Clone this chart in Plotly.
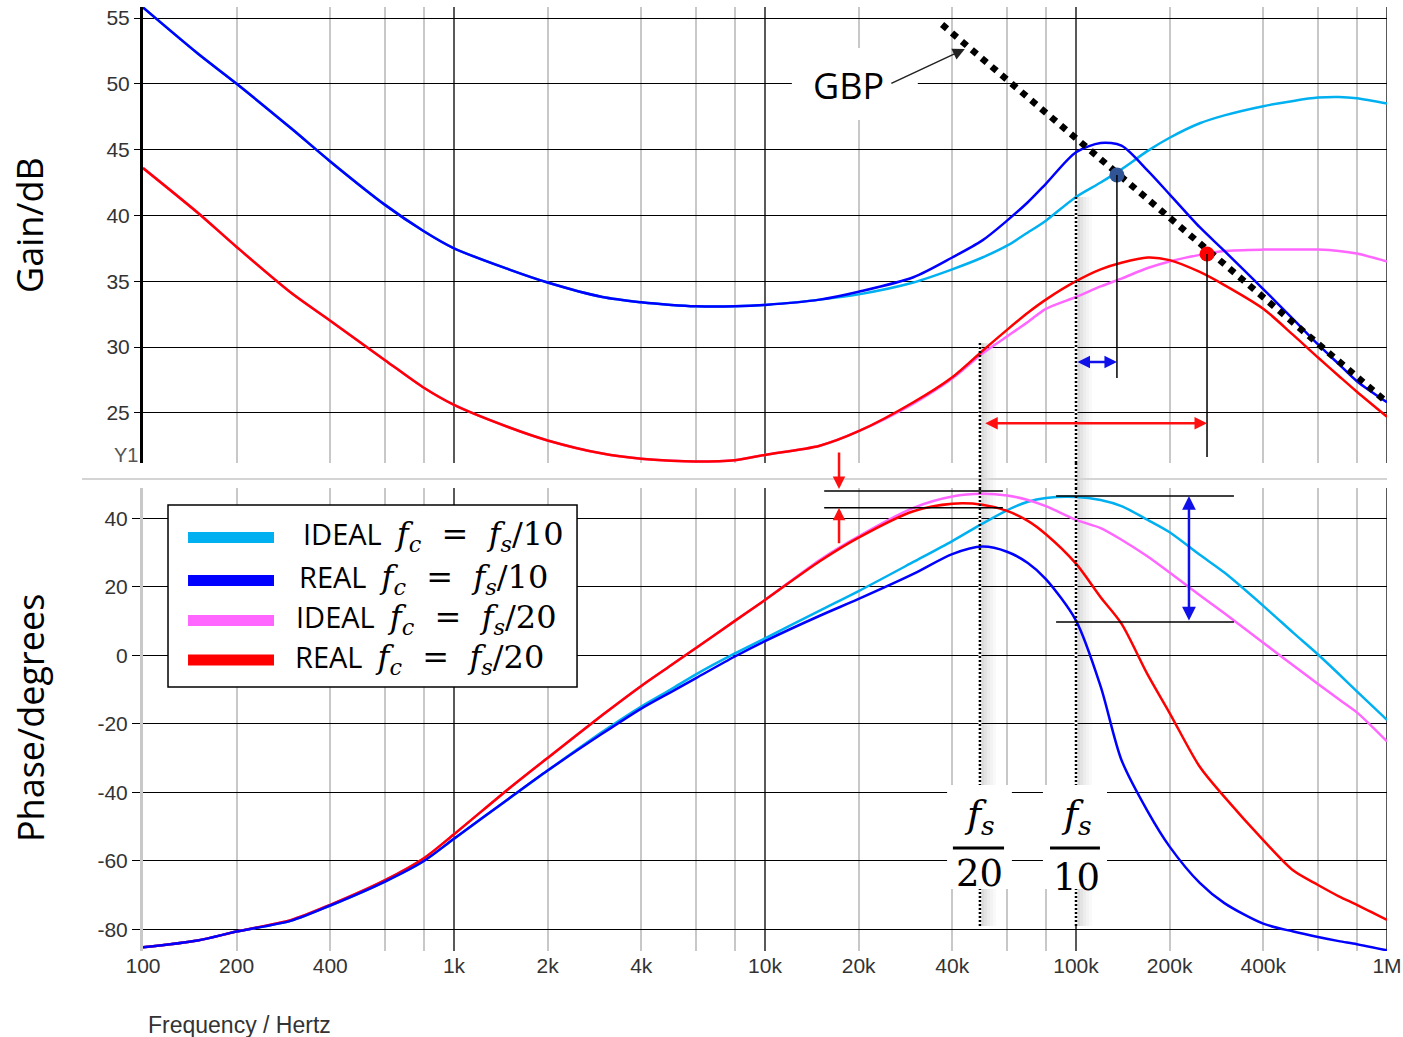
import math
import plotly.graph_objects as go

# ---------------- data ----------------
freq_hz = [100, 150, 200, 300, 400, 600, 800, 1e3, 1.5e3, 2e3, 3e3, 4e3, 5e3, 6e3, 8e3,
           1e4, 1.5e4, 2e4, 3e4, 4e4, 5e4, 6e4, 7e4, 8e4, 1e5, 1.2e5, 1.4e5, 1.7e5, 2e5,
           2.5e5, 3e5, 4e5, 5e5, 6e5, 7e5, 8e5, 1e6]

gain_ideal_10 = [55.8, 52.3, 50.0, 46.6, 44.1, 40.8, 38.8, 37.5, 35.9, 34.9, 33.8, 33.4, 33.2, 33.1, 33.1,
                 33.2, 33.6, 34.0, 34.9, 35.9, 36.8, 37.7, 38.7, 39.6, 41.4, 42.5, 43.5, 44.9, 45.9,
                 47.0, 47.6, 48.3, 48.7, 48.95, 49.0, 48.9, 48.5]
gain_real_10 = [55.8, 52.3, 50.0, 46.6, 44.1, 40.8, 38.8, 37.5, 35.9, 34.9, 33.8, 33.4, 33.2, 33.1, 33.1,
                33.2, 33.6, 34.2, 35.3, 36.8, 38.1, 39.6, 41.0, 42.4, 44.8, 45.5, 45.3, 43.4, 41.6,
                39.1, 37.3, 34.4, 32.1, 30.2, 28.7, 27.4, 25.8]
gain_ideal_20 = [43.6, 40.2, 37.6, 34.1, 32.0, 29.0, 26.9, 25.6, 23.9, 22.9, 21.9, 21.5, 21.35, 21.3, 21.4,
                 21.8, 22.5, 23.6, 25.7, 27.6, 29.5, 30.8, 31.9, 32.9, 33.8, 34.6, 35.2, 36.0, 36.5,
                 37.0, 37.3, 37.4, 37.4, 37.4, 37.3, 37.1, 36.5]
gain_real_20 = [43.6, 40.2, 37.6, 34.1, 32.0, 29.0, 26.9, 25.6, 23.9, 22.9, 21.9, 21.5, 21.35, 21.3, 21.4,
                21.8, 22.5, 23.6, 25.8, 27.7, 29.7, 31.3, 32.6, 33.6, 35.0, 35.9, 36.4, 36.8, 36.6,
                35.7, 34.7, 32.9, 30.9, 29.2, 27.8, 26.6, 24.7]

phase_ideal_10 = [-85.2, -83.2, -80.6, -77.4, -73.0, -66.0, -60.0, -53.5, -41.8, -33.6, -22.3, -14.9, -9.8, -5.5, 0.6,
                  5.0, 13.1, 18.8, 27.3, 33.4, 38.5, 42.4, 44.9, 46.0, 46.3, 45.4, 43.6, 39.6, 36.0,
                  29.4, 24.2, 14.5, 6.6, 0.3, -5.4, -10.5, -18.8]
phase_real_10 = [-85.2, -83.2, -80.6, -77.4, -73.0, -66.0, -60.0, -53.5, -41.8, -33.6, -22.8, -15.5, -10.6, -6.6, -0.3,
                 4.2, 11.6, 16.5, 23.8, 29.6, 31.8, 30.3, 27.0, 22.3, 10.2, -9.0, -30.5, -45.5, -55.8,
                 -66.4, -72.3, -78.3, -80.6, -82.2, -83.4, -84.3, -86.1]
phase_ideal_20 = [-85.2, -83.2, -80.6, -77.2, -72.8, -65.6, -59.2, -52.2, -38.9, -29.9, -17.4, -8.9, -2.8, 2.2, 10.1,
                  16.2, 27.9, 34.8, 43.1, 46.4, 47.2, 46.7, 45.4, 43.6, 39.6, 37.2, 33.8, 28.9, 24.2,
                  17.6, 12.3, 3.7, -2.9, -8.3, -12.8, -16.6, -25.1]
phase_real_20 = [-85.2, -83.2, -80.6, -77.2, -72.8, -65.6, -59.2, -52.2, -38.9, -29.9, -17.4, -8.9, -2.8, 2.2, 10.1,
                 16.2, 27.5, 34.4, 42.1, 44.3, 44.0, 42.2, 39.3, 35.4, 26.8, 17.0, 9.3, -5.6, -16.8,
                 -32.5, -41.3, -53.9, -62.8, -67.0, -70.3, -72.8, -77.2]

series_kind = ["IDEAL", "REAL", "IDEAL", "REAL"]
series_div = [10, 10, 20, 20]
series_color = ["#00B0F0", "#0000FF", "#FF66FF", "#FF0000"]
series_gain = [gain_ideal_10, gain_real_10, gain_ideal_20, gain_real_20]
series_phase = [phase_ideal_10, phase_real_10, phase_ideal_20, phase_real_20]

# gain-bandwidth product asymptote and where the ideal curves meet it
gbp_freq = [37.1e3, 1e6]
gbp_gain = [54.5, 25.8]
cross_freq = [135.4e3, 263.8e3]
cross_gain = [43.07, 37.07]
cross_color = ["#2F5597", "#FF0000"]

# sampling-frequency fractions
fs20_freq = 49.1e3
fs10_freq = 100e3
fs20_gain_top = 30.3
fs10_gain_top = 41.4
fs_phase_bottom = -79.0

x_tick_vals = [100, 200, 400, 1e3, 2e3, 4e3, 1e4, 2e4, 4e4, 1e5, 2e5, 4e5, 1e6]
x_tick_text = ["100", "200", "400", "1k", "2k", "4k", "10k", "20k", "40k", "100k", "200k", "400k", "1M"]
gain_ticks = [25, 30, 35, 40, 45, 50, 55]
phase_ticks = [-80, -60, -40, -20, 0, 20, 40]
phase_tick_text = ["-80", "-60", "-40", "-20", "0", "20", "40"]

# ---------------- layout constants ----------------
W, H = 1403, 1037
GAIN_RANGE = [21.185, 55.836]
PHASE_RANGE = [-86.28, 48.9]
TOP_DOM = [0.51695, 1.0]
BOT_DOM = [0.0, 0.49047]
TICK_FONT = dict(family="Liberation Sans, Arial", size=21, color="#333333")
SANS = "Open Sans"
MATH = "DejaVu Serif"
PXF = 10 ** (1 / 311)  # frequency ratio of one screen pixel on the x axis

lg = math.log10
decades = [1e3, 1e4, 1e5, 1e6]
minor_grid = [m * 10 ** k for k in range(2, 6) for m in (2, 4, 6, 8)]
LINE = dict(width=2.5, shape="spline", smoothing=0.8)

fig = go.Figure()

# curves: ideal underneath, real on top
for idx in (0, 2, 3, 1):
    fig.add_trace(go.Scatter(x=freq_hz, y=series_gain[idx], mode="lines", xaxis="x", yaxis="y",
                             line=dict(color=series_color[idx], **LINE),
                             showlegend=False, hoverinfo="skip"))
    fig.add_trace(go.Scatter(x=freq_hz, y=series_phase[idx], mode="lines", xaxis="x2", yaxis="y2",
                             line=dict(color=series_color[idx], **LINE),
                             showlegend=False, hoverinfo="skip"))

fig.add_trace(go.Scatter(x=gbp_freq, y=gbp_gain, mode="lines", xaxis="x", yaxis="y",
                         line=dict(color="black", width=6.5, dash="dot"),
                         showlegend=False, hoverinfo="skip"))
fig.add_trace(go.Scatter(x=cross_freq, y=cross_gain, mode="markers", xaxis="x", yaxis="y",
                         marker=dict(color=cross_color, size=15, line=dict(width=0)),
                         showlegend=False, hoverinfo="skip"))

shapes = []
# decade grid lines in black
for d in decades:
    shapes.append(dict(type="line", xref="x", yref="y domain", x0=d, x1=d, y0=0, y1=1,
                       line=dict(color="black", width=1.3), layer="below"))
    shapes.append(dict(type="line", xref="x2", yref="y2 domain", x0=d, x1=d, y0=0, y1=1,
                       line=dict(color="black", width=1.3), layer="below"))

# separator between the two panels
shapes.append(dict(type="line", xref="paper", yref="paper", x0=-0.049, x1=1, y0=0.5, y1=0.5,
                   line=dict(color="#d4d4d4", width=2)))

shadow_cols = ["#d9d9d9", "#e3e3e3", "#ececec", "#f3f3f3", "#f9f9f9"]


def fs_marker(f, g_top):
    out = []
    # soft shadow on the right of the marker line
    for k, col in enumerate(shadow_cols):
        a, b = f * PXF ** (1 + 3 * k), f * PXF ** (4 + 3 * k)
        out.append(dict(type="rect", xref="x", yref="y", x0=a, x1=b, y0=g_top, y1=GAIN_RANGE[0],
                        fillcolor=col, line=dict(width=0), layer="below"))
        out.append(dict(type="rect", xref="x", yref="paper", x0=a, x1=b, y0=TOP_DOM[0], y1=BOT_DOM[1],
                        fillcolor=col, line=dict(width=0), layer="below"))
        out.append(dict(type="rect", xref="x2", yref="y2", x0=a, x1=b, y0=PHASE_RANGE[1], y1=fs_phase_bottom,
                        fillcolor=col, line=dict(width=0), layer="below"))
    # white backing so the dots read as dots over the grid
    out.append(dict(type="line", xref="x", yref="y", x0=f, x1=f, y0=g_top, y1=GAIN_RANGE[0],
                    line=dict(color="white", width=3), layer="between"))
    out.append(dict(type="line", xref="x2", yref="y2", x0=f, x1=f, y0=PHASE_RANGE[1], y1=fs_phase_bottom,
                    line=dict(color="white", width=3), layer="between"))
    dot = dict(color="black", width=2.5, dash="2px,2px")
    out.append(dict(type="line", xref="x", yref="y", x0=f, x1=f, y0=g_top, y1=GAIN_RANGE[0],
                    line=dot, layer="above"))
    out.append(dict(type="line", xref="x", yref="paper", x0=f, x1=f, y0=TOP_DOM[0], y1=BOT_DOM[1],
                    line=dot, layer="above"))
    out.append(dict(type="line", xref="x2", yref="y2", x0=f, x1=f, y0=PHASE_RANGE[1], y1=fs_phase_bottom,
                    line=dot, layer="above"))
    return out


shapes += fs_marker(fs20_freq, fs20_gain_top)
shapes += fs_marker(fs10_freq, fs10_gain_top)

# drop lines from the crossing points
for f, g, g_end in zip(cross_freq, cross_gain, [27.64, 21.64]):
    shapes.append(dict(type="line", xref="x", yref="y", x0=f, x1=f, y0=g, y1=g_end,
                       line=dict(color="black", width=1.5)))

# phase reference levels
for f0, f1, p in [(15.5e3, 58.2e3, 48.0), (15.5e3, 58.2e3, 43.1), (86.3e3, 322e3, 46.6), (86.3e3, 322e3, 9.8)]:
    shapes.append(dict(type="line", xref="x2", yref="y2", x0=f0, x1=f1, y0=p, y1=p,
                       line=dict(color="black", width=1.5)))

# white label backgrounds
shapes.append(dict(type="rect", xref="x", yref="y", x0=12.2e3, x1=31.0e3, y0=47.25, y1=52.72,
                   fillcolor="white", line=dict(width=0), layer="above"))
for f0, f1 in [(38.5e3, 62.2e3), (78.3e3, 125.8e3)]:
    shapes.append(dict(type="rect", xref="x2", yref="y2", x0=f0, x1=f1, y0=-37.8, y1=-68.2,
                       fillcolor="white", line=dict(width=0), layer="above"))
# fraction bars
for f0, f1 in [(40.2e3, 58.7e3), (82.5e3, 119.4e3)]:
    shapes.append(dict(type="line", xref="x2", yref="y2", x0=f0, x1=f1, y0=-56.2, y1=-56.2,
                       line=dict(color="black", width=3)))

# legend box
shapes.append(dict(type="rect", xref="paper", yref="paper", x0=0.0201, x1=0.3489, y0=0.2797, y1=0.4725,
                   fillcolor="white", line=dict(color="black", width=1.5), layer="above"))
legend_y = [0.4380, 0.3925, 0.3501, 0.3083]
legend_text_x = [0.1270, 0.1238, 0.1214, 0.1206]
for i in range(4):
    shapes.append(dict(type="line", xref="paper", yref="paper", x0=0.0362, x1=0.1053,
                       y0=legend_y[i], y1=legend_y[i], line=dict(color=series_color[i], width=11)))

ann = []
ann.append(dict(text="Gain/dB", xref="paper", yref="paper", x=-0.0908, y=0.7691, textangle=-90,
                xanchor="center", yanchor="middle",
                showarrow=False, font=dict(family=SANS, size=36, color="black")))
ann.append(dict(text="Phase/degrees", xref="paper", yref="paper", x=-0.0908, y=0.2468, textangle=-90,
                xanchor="center", yanchor="middle",
                showarrow=False, font=dict(family=SANS, size=36, color="black")))
ann.append(dict(text="Frequency / Hertz", xref="paper", yref="paper", x=0.0024, y=-0.0784,
                xanchor="left", yanchor="middle", showarrow=False,
                font=dict(family="Liberation Sans, Arial", size=23, color="#333333")))
ann.append(dict(text="Y1", xref="paper", yref="y", x=-0.0024, y=21.81, xanchor="right", yanchor="middle",
                showarrow=False, font=dict(family="Liberation Sans, Arial", size=20, color="#555555")))
ann.append(dict(text="GBP", xref="x", yref="y", x=lg(18.6e3), y=49.85, showarrow=False,
                font=dict(family=SANS, size=36, color="black")))
ann.append(dict(text="", xref="x", yref="y", x=lg(43.9e3), y=52.64, axref="x", ayref="y",
                ax=lg(25.2e3), ay=49.98, showarrow=True, arrowhead=2, arrowsize=1.6, arrowwidth=1.5,
                arrowcolor="#222222", standoff=0))

for f, den, yd in [(fs20_freq, "20", -63.6), (fs10_freq, "10", -64.8)]:
    ann.append(dict(text="<i>f</i><sub><i>s</i></sub>", xref="x2", yref="y2", x=lg(f), y=-46.9,
                    showarrow=False, font=dict(family=MATH, size=38, color="black")))
    ann.append(dict(text=den, xref="x2", yref="y2", x=lg(f), y=yd,
                    showarrow=False, font=dict(family=MATH, size=37, color="black")))

for i in range(4):
    txt = (f"{series_kind[i]}&nbsp;&nbsp;<span style=\"font-family:'{MATH}';font-size:32px\">"
           f"<i>f</i><sub><i>c</i></sub>&nbsp;&nbsp;=&nbsp;&nbsp;<i>f</i><sub><i>s</i></sub>/{series_div[i]}</span>")
    ann.append(dict(text=txt, xref="paper", yref="paper", x=legend_text_x[i], y=legend_y[i] + 0.002,
                    xanchor="left", yanchor="middle", showarrow=False,
                    font=dict(family=SANS, size=29, color="black")))

# distance arrows
ann.append(dict(text="", xref="x", yref="y", x=lg(cross_freq[0]), y=28.86, axref="x", ayref="y",
                ax=lg(100e3), ay=28.86, showarrow=True, arrowhead=2, arrowside="end+start",
                arrowsize=1.0, arrowwidth=2.5, arrowcolor="#1010E8", standoff=0, startstandoff=0))
ann.append(dict(text="", xref="x", yref="y", x=lg(cross_freq[1]), y=24.2, axref="x", ayref="y",
                ax=lg(50.5e3), ay=24.2, showarrow=True, arrowhead=2, arrowside="end+start",
                arrowsize=1.0, arrowwidth=2.5, arrowcolor="#FF1010", standoff=0, startstandoff=0))
ann.append(dict(text="", xref="x2", yref="y2", x=lg(230.8e3), y=46.6, axref="x2", ayref="y2",
                ax=lg(230.8e3), ay=9.8, showarrow=True, arrowhead=2, arrowside="end+start",
                arrowsize=1.1, arrowwidth=2.5, arrowcolor="#1010E8", standoff=0, startstandoff=0))
ann.append(dict(text="", xref="x2", yref="y2", x=lg(17.3e3), y=48.6, axref="pixel", ayref="pixel",
                ax=0, ay=-38, showarrow=True, arrowhead=2, arrowsize=1.0, arrowwidth=2.5,
                arrowcolor="#FF1010", standoff=0))
ann.append(dict(text="", xref="x2", yref="y2", x=lg(17.3e3), y=43.1, axref="x2", ayref="y2",
                ax=lg(17.3e3), ay=32.3, showarrow=True, arrowhead=2, arrowsize=1.0, arrowwidth=2.5,
                arrowcolor="#FF1010", standoff=0))

xcommon = dict(type="log", range=[2, 6], showgrid=False, zeroline=False, showline=False, ticks="",
               automargin=False,
               minor=dict(tickmode="array", tickvals=minor_grid, showgrid=True,
                          gridcolor="#c8c8c8", gridwidth=1.5, ticks=""))

fig.update_layout(
    width=W, height=H,
    margin=dict(l=143, r=16, t=7, b=86, autoexpand=False),
    paper_bgcolor="white", plot_bgcolor="white",
    showlegend=False,
    xaxis=dict(**xcommon, anchor="y", domain=[0, 1], showticklabels=False),
    xaxis2=dict(**xcommon, anchor="y2", domain=[0, 1], matches="x",
                tickmode="array", tickvals=x_tick_vals, ticktext=x_tick_text, tickfont=TICK_FONT),
    yaxis=dict(domain=TOP_DOM, anchor="x", range=GAIN_RANGE, tickmode="array", tickvals=gain_ticks,
               showgrid=True, gridcolor="black", gridwidth=1.3, zeroline=False, automargin=False,
               showline=True, linecolor="black", linewidth=3,
               ticks="outside", ticklen=6, tickcolor="black", tickwidth=1.3, tickfont=TICK_FONT),
    yaxis2=dict(domain=BOT_DOM, anchor="x2", range=PHASE_RANGE, tickmode="array", tickvals=phase_ticks,
                ticktext=phase_tick_text,
                showgrid=True, gridcolor="black", gridwidth=1.3, zeroline=False, automargin=False,
                showline=True, linecolor="#c8c8c8", linewidth=3,
                ticks="outside", ticklen=8, tickcolor="black", tickwidth=1.3, tickfont=TICK_FONT),
    shapes=shapes,
    annotations=ann,
)

fig.write_html("out.html")
